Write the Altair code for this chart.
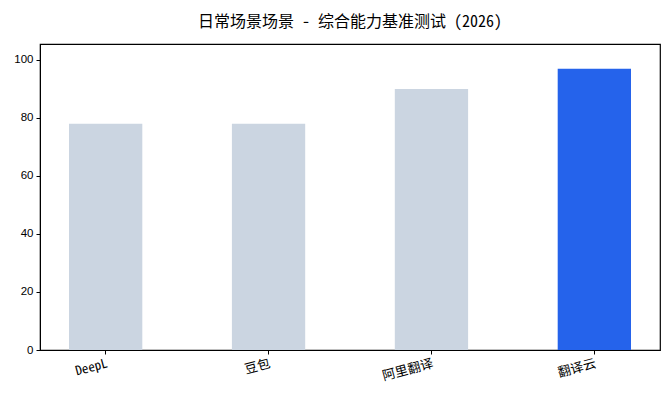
import altair as alt
import pandas as pd

categories = ["DeepL", "豆包", "阿里翻译", "翻译云"]
scores = [78, 78, 90, 97]
highlight = [False, False, False, True]

df = pd.DataFrame({"model": categories, "score": scores, "hl": highlight})

FONT = "'Noto Sans Mono CJK SC', 'Noto Sans CJK SC'"

chart = alt.Chart(df).mark_bar().encode(
    x=alt.X("model:N", sort=categories,
            scale=alt.Scale(paddingInner=0.55, paddingOuter=0.178),
            axis=alt.Axis(title=None, labelAngle=-15, labelAlign="right", labelBaseline="top",
                          labelFontSize=13, labelColor="#000", tickColor="#000", domainColor="#000",
                          tickSize=4, labelPadding=3, labelFont=FONT)),
    y=alt.Y("score:Q", scale=alt.Scale(domain=[0, 105.5], nice=False),
            axis=alt.Axis(title=None, values=[0, 20, 40, 60, 80, 100], grid=False,
                          labelFontSize=11.5, labelColor="#000", tickColor="#000", domainColor="#000",
                          tickSize=4, labelPadding=3, labelFont="Liberation Sans")),
    color=alt.Color("hl:N", scale=alt.Scale(domain=[False, True], range=["#cbd5e1", "#2563eb"]), legend=None),
).properties(
    width=620,
    height=306,
    title=alt.TitleParams("日常场景场景 - 综合能力基准测试 (2026)", font=FONT, fontSize=16,
                          fontWeight="normal", color="#000", anchor="middle", offset=14),
    autosize=alt.AutoSizeParams(type="none"),
    padding={"left": 40, "top": 44, "right": 10, "bottom": 47},
    background="white",
).configure_view(stroke="#000", strokeWidth=1.2)

chart.save("out.html", embed_options={"renderer": "svg", "actions": False})
